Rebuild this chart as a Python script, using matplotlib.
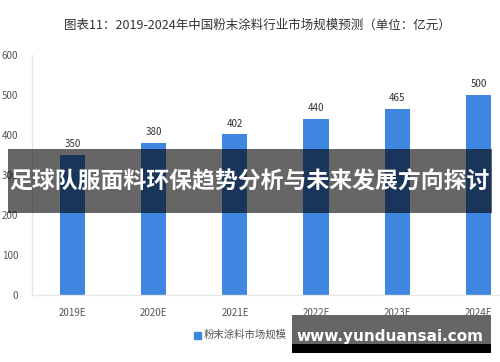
import matplotlib
matplotlib.use("Agg")
import matplotlib.pyplot as plt
from matplotlib.patches import Rectangle

plt.rcParams['font.family'] = ['Noto Sans CJK SC', 'DejaVu Sans']

# data
years = ['2019E', '2020E', '2021E', '2022E', '2023E', '2024E']
market_size = [350, 380, 402, 440, 465, 500]
yticks = [0, 100, 200, 300, 400, 500, 600]

title = '图表11：2019-2024年中国粉末涂料行业市场规模预测（单位：亿元）'
legend_label = '粉末涂料市场规模（亿元）'
banner_text = '足球队服面料环保趋势分析与未来发展方向探讨'
site_text = 'www.yunduansai.com'

W, H = 500, 362
fig = plt.figure(figsize=(W / 100, H / 100), dpi=100)
fig.patch.set_facecolor('white')

# plot area: x from 32px, y 0 at 295px, 600 at 55px
ax = fig.add_axes([32 / W, (H - 295) / H, (500 - 32) / W, 240 / H])
x = list(range(len(years)))
bars = ax.bar(x, market_size, width=0.31, color='#3f86e0', zorder=2)
for xi, v in zip(x, market_size):
    ax.text(xi, v + 14, str(v), ha='center', va='bottom', fontsize=7, color='#333333')

ax.set_ylim(0, 600)
ax.set_xlim(-0.5, 5.5 - 19 / 81.2)
ax.set_yticks(yticks)
ax.set_xticks(x)
ax.set_xticklabels(years)
ax.tick_params(axis='both', length=0, labelsize=7, colors='#555555')
ax.tick_params(axis='y', pad=10)
ax.tick_params(axis='x', pad=9)
for s in ['top', 'right']:
    ax.spines[s].set_visible(False)
for s in ['left', 'bottom']:
    ax.spines[s].set_color('#e6e6e6')
    ax.spines[s].set_linewidth(1)

fig.text(257 / W, 1 - 25 / H, title, ha='center', va='center', fontsize=9, color='#333333')

# legend
fig.patches.append(Rectangle((194 / W, 1 - 339 / H), 7 / W, 7 / H, transform=fig.transFigure,
                             color='#3f86e0', figure=fig))
fig.text(204 / W, 1 - 335 / H, legend_label, ha='left', va='center', fontsize=7.5, color='#555555')

# overlay banner
fig.patches.append(Rectangle((8 / W, 1 - 213 / H), 484 / W, 64 / H, transform=fig.transFigure,
                             facecolor='black', alpha=0.6, edgecolor='none', figure=fig, zorder=5))
fig.text(249 / W, 1 - 182 / H, banner_text, ha='center', va='center', fontsize=16.5,
         color='white', fontweight='bold', zorder=6)

# site watermark box
fig.patches.append(Rectangle((292 / W, 1 - 344 / H), 199 / W, 29 / H, transform=fig.transFigure,
                             facecolor='#666666', edgecolor='none', figure=fig, zorder=5))
fig.patches.append(Rectangle((292 / W, 1 - 353 / H), 199 / W, 9 / H, transform=fig.transFigure,
                             facecolor='black', edgecolor='none', figure=fig, zorder=5))
fig.text(390 / W, 1 - 336 / H, site_text, ha='center', va='center', fontsize=11,
         color='white', fontweight='bold', family=['DejaVu Sans'], zorder=6)

fig.savefig('out.png', dpi=100)
